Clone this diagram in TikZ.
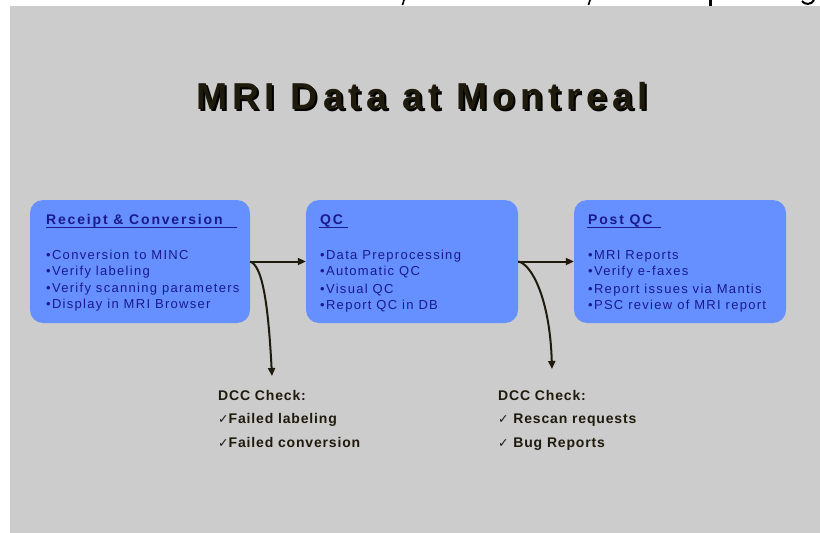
\documentclass[tikz,border=0pt]{standalone}
\usepackage{fontspec}
\setmainfont{Liberation Sans}
\newfontfamily\bodysp[LetterSpace=10]{Liberation Sans}
\newfontfamily\headsp[LetterSpace=13]{Liberation Sans}
\newfontfamily\titlesp[LetterSpace=13.5]{Liberation Sans}
\newfontfamily\dccsp[LetterSpace=6]{Liberation Sans}
\newfontfamily\symfont{DejaVu Sans}
\usetikzlibrary{arrows.meta}
\definecolor{bggrey}{HTML}{CCCCCC}
\definecolor{boxblue}{HTML}{6690FF}
\definecolor{navy}{HTML}{1A1A8C}
\definecolor{ink}{HTML}{1E1A0C}
\tikzset{
  stage/.style={draw=none, fill=boxblue, rounded corners=13pt, minimum width=220pt, minimum height=123pt, inner sep=0pt},
  boxhead/.style={anchor=base west, inner sep=0pt, text=navy, font=\headsp\bfseries\fontsize{14}{16}\selectfont},
  boxline/.style={anchor=base west, inner sep=0pt, text=navy, font=\bodysp\fontsize{13}{16}\selectfont},
  headrule/.style={navy, line width=1.3pt},
  dcctext/.style={anchor=base west, inner sep=0pt, text=ink, font=\dccsp\bfseries\fontsize{14}{16}\selectfont},
  bigtitle/.style={anchor=base, inner sep=0pt, font=\titlesp\bfseries\fontsize{37.5}{40}\selectfont},
  flow/.style={ink, line width=2pt, -{Triangle[length=8pt,width=7pt]}},
}
\newcommand{\tk}{{\symfont\fontsize{12.5}{14}\selectfont ✓}}
\newcommand{\shadowed}[1]{\makebox[0pt][l]{\kern2pt\raisebox{-2pt}{\textcolor{black}{#1}}}#1}
\begin{document}
\begin{tikzpicture}[x=1pt,y=-1pt]
\useasboundingbox (0,0) rectangle (820,533);
\fill[white] (0,0) rectangle (820,533);
\fill[bggrey] (10,6) rectangle (820,533);
% cut-off text fragments at top
\draw[black, line width=1.6pt] (404,0) -- (402.5,5);
\draw[black, line width=1.6pt] (590,0) -- (588.5,5);
\fill[black] (709,0) rectangle (712,5.5);
\draw[black, line width=2pt] (802,1) .. controls (804,5) and (812,5) .. (814,0);

% title with drop shadow
\node[bigtitle, text=ink] (title) at (422.5,109) {\shadowed{MRI Data at Montreal}};

% stage boxes
\node[stage] (b1) at (140,261.5) {};
\node[stage, minimum width=212pt] (b2) at (412,261.5) {};
\node[stage, minimum width=212pt] (b3) at (680,261.5) {};

% box 1
\node[boxhead] (h1) at (46,224) {Receipt \& Conversion};
\draw[headrule] (46,227.8) -- (237,227.8);
\node[boxline] (l11) at (46,259) {•Conversion to MINC};
\node[boxline] (l12) at (46,275.5) {•Verify labeling};
\node[boxline] (l13) at (46,292) {•Verify scanning parameters};
\node[boxline] (l14) at (46,308.5) {•Display in MRI Browser};

% box 2
\node[boxhead] (h2) at (320,224) {QC};
\draw[headrule] (319,227.8) -- (348,227.8);
\node[boxline] (l21) at (320,259.5) {•Data Preprocessing};
\node[boxline] (l22) at (320,275.5) {•Automatic QC};
\node[boxline] (l23) at (320,293) {•Visual QC};
\node[boxline] (l24) at (320,309) {•Report QC in DB};

% box 3
\node[boxhead] (h3) at (588,224) {Post QC};
\draw[headrule] (587,227.8) -- (661,227.8);
\node[boxline] (l31) at (588,259.5) {•MRI Reports};
\node[boxline] (l32) at (588,275.5) {•Verify e-faxes};
\node[boxline] (l33) at (588,293) {•Report issues via Mantis};
\node[boxline] (l34) at (588,309) {•PSC review of MRI report};

% DCC checks
\node[dcctext] (d1) at (218,400) {DCC Check:};
\node[dcctext] (d11) at (218,423.5) {\tk Failed labeling};
\node[dcctext] (d12) at (218,447) {\tk Failed conversion};
\node[dcctext] (d2) at (498,400) {DCC Check:};
\node[dcctext] (d21) at (498,423.5) {\tk\ Rescan requests};
\node[dcctext] (d22) at (498,447) {\tk\ Bug Reports};

\coordinate (t1) at (272,376);
\coordinate (t2) at (552,369);

% connectors
\draw[flow] (b1.east) -- (b2.west);
\draw[flow] (b2.east) -- (b3.west);
\draw[flow] (b1.east) .. controls (262,266) and (268,300) .. (t1);
\draw[flow] (b2.east) .. controls (532,264) and (550,300) .. (t2);
\end{tikzpicture}
\end{document}
